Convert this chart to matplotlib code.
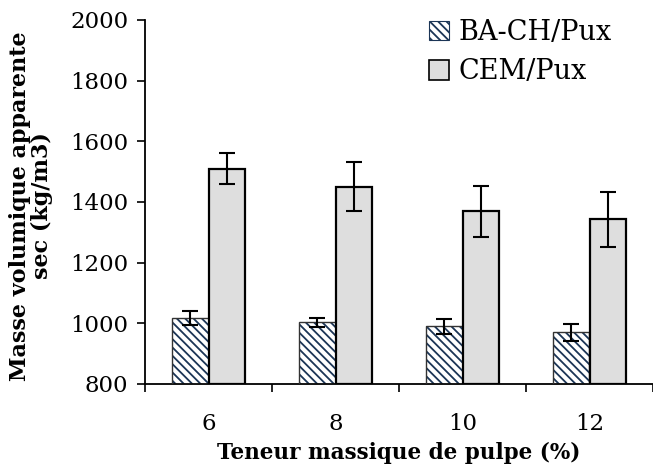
import matplotlib
matplotlib.use("Agg")
import matplotlib.pyplot as plt
from matplotlib.patches import Patch
import numpy as np

# Dry apparent density vs pulp content
categories = ["6", "8", "10", "12"]
series_names = ["BA-CH/Pux", "CEM/Pux"]
ba_ch = [1018, 1004, 990, 970]
ba_ch_err = [23, 15, 25, 28]
cem = [1510, 1451, 1369, 1343]
cem_err = [51, 82, 83, 91]
yticks = [800, 1000, 1200, 1400, 1600, 1800, 2000]

plt.rcParams["font.family"] = ["DejaVu Serif"]
plt.rcParams["hatch.linewidth"] = 1.3

fig = plt.figure(figsize=(6.53, 4.68), dpi=100)
ax = fig.add_axes([145 / 653, 84 / 468, 508 / 653, 364 / 468])

x = np.arange(len(categories))
w = 0.287
HATCH = "\\\\\\\\"
NAVY = "#1b3556"

# hatched series: fill + hatch, then outline on top
ax.bar(x - w / 2, np.array(ba_ch) - 800, w, bottom=800, color="white",
       edgecolor=NAVY, hatch=HATCH, linewidth=0, zorder=2)
ax.bar(x - w / 2, np.array(ba_ch) - 800, w, bottom=800, color="none",
       edgecolor="#333333", linewidth=1.0, zorder=3)
ax.bar(x + w / 2, np.array(cem) - 800, w, bottom=800, color="#dedede",
       edgecolor="black", linewidth=1.6, zorder=3)

ax.errorbar(x - w / 2, ba_ch, yerr=ba_ch_err, fmt="none", ecolor="black",
            elinewidth=1.5, capsize=6, capthick=1.5, zorder=4)
ax.errorbar(x + w / 2, cem, yerr=cem_err, fmt="none", ecolor="black",
            elinewidth=1.5, capsize=6, capthick=1.5, zorder=4)

ax.set_xlim(-0.5, 3.5)
ax.set_ylim(800, 2000)
ax.set_yticks(yticks)
ax.set_yticklabels([str(t) for t in yticks], fontsize=16.5)

# category boundary ticks, labels at centres
ax.set_xticks(np.arange(-0.5, 4.0, 1.0))
ax.set_xticklabels([])
ax.set_xticks(x, minor=True)
ax.set_xticklabels(categories, minor=True, fontsize=16.5)
ax.tick_params(axis="x", which="minor", length=0, pad=21)
ax.tick_params(axis="x", which="major", direction="out", length=6, width=1.2)
ax.tick_params(axis="y", direction="out", length=6, width=1.2, pad=6)

for s in ["top", "right"]:
    ax.spines[s].set_visible(False)
ax.spines["left"].set_linewidth(1.3)
ax.spines["bottom"].set_linewidth(1.3)

ax.set_xlabel("Teneur massique de pulpe (%)", fontsize=15.5, fontweight="bold",
              labelpad=5)
fig.text(31 / 653, 0.5 + 28 / 468, "Masse volumique apparente\nsec (kg/m3)",
         rotation=90, ha="center", va="center", fontsize=16,
         fontweight="bold", linespacing=1.05,
         transform=fig.transFigure)

handles = [
    Patch(facecolor="white", edgecolor=NAVY, hatch=HATCH, linewidth=0.8),
    Patch(facecolor="#dedede", edgecolor="black", linewidth=1.2),
]
leg = ax.legend(handles, series_names, loc="upper left",
                bbox_to_anchor=(410 / 653, 1.0), bbox_transform=fig.transFigure,
                frameon=False, fontsize=19.5, handlelength=0.75, handleheight=0.75,
                handletextpad=0.35, labelspacing=0.45, borderpad=0.2)

fig.savefig("out.png", dpi=100)
